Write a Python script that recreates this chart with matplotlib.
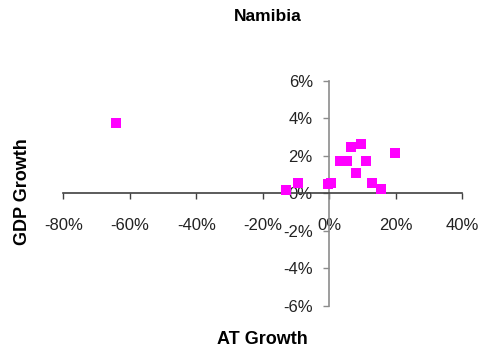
import matplotlib
matplotlib.use("Agg")
import matplotlib.pyplot as plt
from matplotlib.ticker import FuncFormatter

plt.rcParams['font.family'] = ['Liberation Sans', 'DejaVu Sans']

# AT growth (%) vs GDP growth (%)
at_growth = [-64.2, -13.1, -9.5, -0.35, 0.45, 3.2, 5.4, 6.6, 7.9, 9.6, 11.1, 12.9, 15.4, 19.8]
gdp_growth = [3.73, 0.18, 0.57, 0.50, 0.57, 1.70, 1.74, 2.45, 1.08, 2.65, 1.74, 0.53, 0.21, 2.13]

x_ticks = [-80, -60, -40, -20, 0, 20, 40]
y_ticks = [-6, -4, -2, 0, 2, 4, 6]

fig = plt.figure(figsize=(4.85, 3.52), dpi=100)
ax = fig.add_axes([0.1309, 0.1315, 0.8227, 0.639])

ax.scatter(at_growth, gdp_growth, marker='s', s=46, color='#FF00FF', linewidths=0, zorder=3)

ax.set_xlim(-80, 40)
ax.set_ylim(-6, 6)
ax.set_xticks(x_ticks)
ax.set_yticks(y_ticks)
pct = FuncFormatter(lambda v, p: "%d%%" % v)
ax.xaxis.set_major_formatter(pct)
ax.yaxis.set_major_formatter(pct)

ax.spines['left'].set_position(('data', 0))
ax.spines['bottom'].set_position(('data', 0))
ax.spines['right'].set_visible(False)
ax.spines['top'].set_visible(False)
ax.spines['left'].set_color('#8c8c8c')
ax.spines['bottom'].set_color('#404040')
ax.spines['left'].set_linewidth(1.2)
ax.spines['bottom'].set_linewidth(1.2)

ax.tick_params(axis='x', direction='out', length=4.5, width=1, color='#404040',
               labelsize=12, pad=13, labelcolor='#222222')
ax.tick_params(axis='y', direction='out', length=4, width=1, color='#8c8c8c',
               labelsize=12, pad=8, labelcolor='#222222')

fig.text(0.553, 0.952, "Namibia", ha='center', va='center', fontsize=12.5, fontweight='bold')
fig.text(0.541, 0.036, "AT Growth", ha='center', va='center', fontsize=13, fontweight='bold')
fig.text(0.046, 0.455, "GDP Growth", ha='center', va='center', fontsize=13,
         fontweight='bold', rotation=90)

fig.savefig("out.png", dpi=100)
